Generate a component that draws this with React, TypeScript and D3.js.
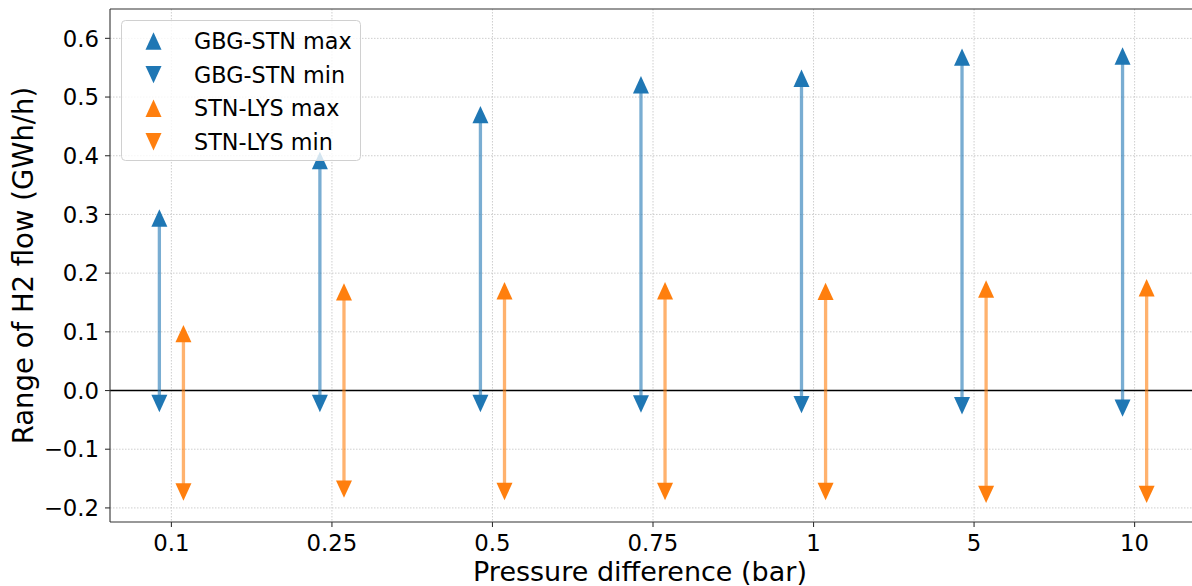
import React from "react";
import * as d3 from "d3";

const categories = ["0.1", "0.25", "0.5", "0.75", "1", "5", "10"];
const gbgMax = [0.294, 0.392, 0.47, 0.521, 0.532, 0.568, 0.57];
const gbgMin = [-0.022, -0.022, -0.022, -0.023, -0.024, -0.026, -0.03];
const stnMax = [0.097, 0.168, 0.17, 0.17, 0.169, 0.173, 0.175];
const stnMin = [-0.173, -0.168, -0.172, -0.172, -0.172, -0.177, -0.177];
const yTicks = [-0.2, -0.1, 0.0, 0.1, 0.2, 0.3, 0.4, 0.5, 0.6];

const BLUE = "#1f77b4";
const ORANGE = "#ff7f0e";
const FONT = "DejaVu Sans, sans-serif";

const W = 1192;
const H = 586;
const L = 110, R = 1196, T = 9, B = 522;

const x = d3.scaleLinear().domain([-0.3825, 6.3825]).range([L, R]);
const y = d3.scaleLinear().domain([-0.224, 0.65]).range([B, T]);

const OFF = 0.075;
const TW = 8, TH = 8.7;

const triUp = (cx: number, cy: number) =>
  `M${cx},${cy - TH}L${cx - TW},${cy + TH}L${cx + TW},${cy + TH}Z`;
const triDown = (cx: number, cy: number) =>
  `M${cx},${cy + TH}L${cx - TW},${cy - TH}L${cx + TW},${cy - TH}Z`;

const fmt = (v: number) => {
  const s = Math.abs(v).toFixed(1);
  return v < -1e-9 ? "\u2212" + s : s;
};

const series = [
  { name: "GBG-STN", color: BLUE, max: gbgMax, min: gbgMin, off: -OFF },
  { name: "STN-LYS", color: ORANGE, max: stnMax, min: stnMin, off: OFF },
];

const legendItems = [
  { label: "GBG-STN max", color: BLUE, up: true },
  { label: "GBG-STN min", color: BLUE, up: false },
  { label: "STN-LYS max", color: ORANGE, up: true },
  { label: "STN-LYS min", color: ORANGE, up: false },
];

export default function App() {
  return (
    <svg
      width={W}
      height={H}
      style={{ position: "absolute", left: 0, top: 0, background: "#fff" }}
      fontFamily={FONT}
    >
      <defs>
        <clipPath id="plot">
          <rect x={L} y={T} width={R - L} height={B - T} />
        </clipPath>
      </defs>
      <rect x={0} y={0} width={W} height={H} fill="#fff" />
      {/* grid */}
      <g stroke="#c8c8c8" strokeWidth={0.9} strokeDasharray="1.5,1.5">
        {categories.map((c, i) => (
          <line key={c} x1={x(i)} x2={x(i)} y1={T} y2={B} />
        ))}
        {yTicks.map((t) => (
          <line key={t} x1={L} x2={R} y1={y(t)} y2={y(t)} />
        ))}
      </g>
      {/* zero line */}
      <line x1={L} x2={R} y1={y(0)} y2={y(0)} stroke="#000" strokeWidth={1.6} />
      {/* ranges */}
      <g clipPath="url(#plot)">
        {series.map((s) =>
          categories.map((c, i) => (
            <line
              key={s.name + c}
              x1={x(i + s.off)}
              x2={x(i + s.off)}
              y1={y(s.min[i])}
              y2={y(s.max[i])}
              stroke={s.color}
              strokeOpacity={0.6}
              strokeWidth={3.3}
            />
          ))
        )}
        {series.map((s) =>
          categories.map((c, i) => (
            <g key={"m" + s.name + c} fill={s.color}>
              <path d={triUp(x(i + s.off), y(s.max[i]))} />
              <path d={triDown(x(i + s.off), y(s.min[i]))} />
            </g>
          ))
        )}
      </g>
      {/* spines */}
      <g stroke="#333" strokeWidth={1.1} fill="none">
        <line x1={L} x2={L} y1={T} y2={B} />
        <line x1={L} x2={R} y1={B} y2={B} />
        <line x1={L} x2={R} y1={T} y2={T} />
        <line x1={R} x2={R} y1={T} y2={B} />
      </g>
      {/* y ticks */}
      {yTicks.map((t) => (
        <g key={"yt" + t}>
          <line x1={L - 5} x2={L} y1={y(t)} y2={y(t)} stroke="#333" strokeWidth={1.1} />
          <text x={L - 11} y={y(t)} dy="0.36em" textAnchor="end" fontSize={22.8} fill="#000">
            {fmt(t)}
          </text>
        </g>
      ))}
      {/* x ticks */}
      {categories.map((c, i) => (
        <g key={"xt" + c}>
          <line x1={x(i)} x2={x(i)} y1={B} y2={B + 5} stroke="#333" strokeWidth={1.1} />
          <text x={x(i)} y={551} textAnchor="middle" fontSize={22.8} fill="#000">
            {c}
          </text>
        </g>
      ))}
      {/* axis labels */}
      <text x={640} y={580.5} textAnchor="middle" fontSize={27} fill="#000">
        Pressure difference (bar)
      </text>
      <text
        transform={`translate(33,${(T + B) / 2}) rotate(-90)`}
        textAnchor="middle"
        fontSize={27.5}
        fill="#000"
      >
        Range of H2 flow (GWh/h)
      </text>
      {/* legend */}
      <g>
        <rect
          x={121.5}
          y={20.5}
          width={239}
          height={140}
          rx={4}
          fill="#fff"
          fillOpacity={0.8}
          stroke="#d0d0d0"
          strokeWidth={1}
        />
        {legendItems.map((it, k) => {
          const cy = 41 + k * 33.6;
          return (
            <g key={it.label}>
              <path d={it.up ? triUp(153.5, cy) : triDown(153.5, cy)} fill={it.color} />
              <text x={194} y={cy} dy="0.36em" fontSize={22.3} fill="#000">
                {it.label}
              </text>
            </g>
          );
        })}
      </g>
    </svg>
  );
}
